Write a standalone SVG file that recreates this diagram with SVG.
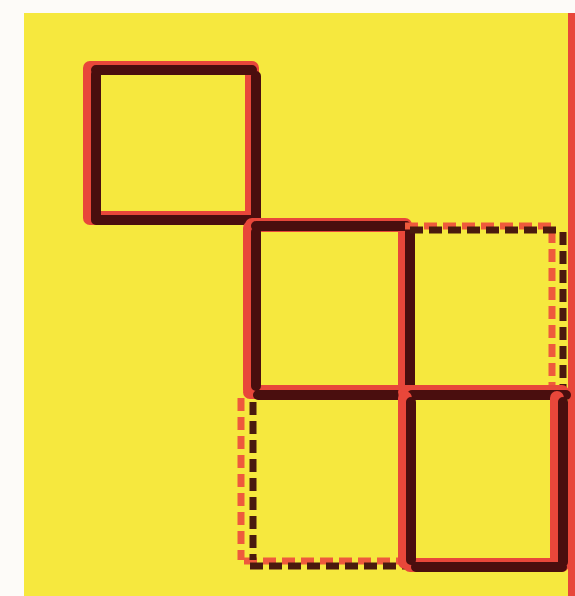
<svg xmlns="http://www.w3.org/2000/svg" width="575" height="596" viewBox="0 0 575 596">
<style>
.r{stroke:#E8473A;stroke-width:14;stroke-linecap:round;fill:none}
.d{stroke:#4A0E0E;stroke-width:10;stroke-linecap:round;fill:none}
.rd{stroke:#EE5A3C;stroke-width:7;fill:none;stroke-dasharray:13 6}
.dd{stroke:#4A1A0E;stroke-width:7;fill:none;stroke-dasharray:13 6}
</style>
<rect x="0" y="0" width="575" height="596" fill="#FDFBF8"/>
<rect x="24" y="13" width="551" height="583" fill="#F6E83E"/>
<rect x="568" y="13" width="7" height="583" fill="#E8473A"/>
<g id="square1">
<path class="r" d="M90 68 H252 M90 68 V218 M252 68 V218 M90 218 H252"/>
<path class="d" d="M96 70 H252 M96 74 V220 M256 76 V222 M96 220 H254"/>
</g>
<g id="square2">
<path class="r" d="M252 225 H405 M250 228 V390 M405 228 V392 M250 392 H405"/>
<path class="d" d="M256 226 H406 M256 232 V386 M410 232 V392 M258 395 H408"/>
</g>
<g id="square3">
<path class="rd" d="M405 226 H556 M552 230 V392"/>
<path class="dd" d="M410 230 H556 M563 232 V392"/>
<path class="r" d="M405 392 H562"/>
<path class="d" d="M412 395 H566"/>
</g>
<g id="square4">
<path class="rd" d="M241 398 V560 M244 561 H405"/>
<path class="dd" d="M253 402 V560 M250 566 H405"/>
</g>
<g id="square5">
<path class="r" d="M405 398 V562 M557 398 V562 M410 565 H562"/>
<path class="d" d="M411 402 V560 M563 402 V562 M416 567 H562"/>
</g>
</svg>
